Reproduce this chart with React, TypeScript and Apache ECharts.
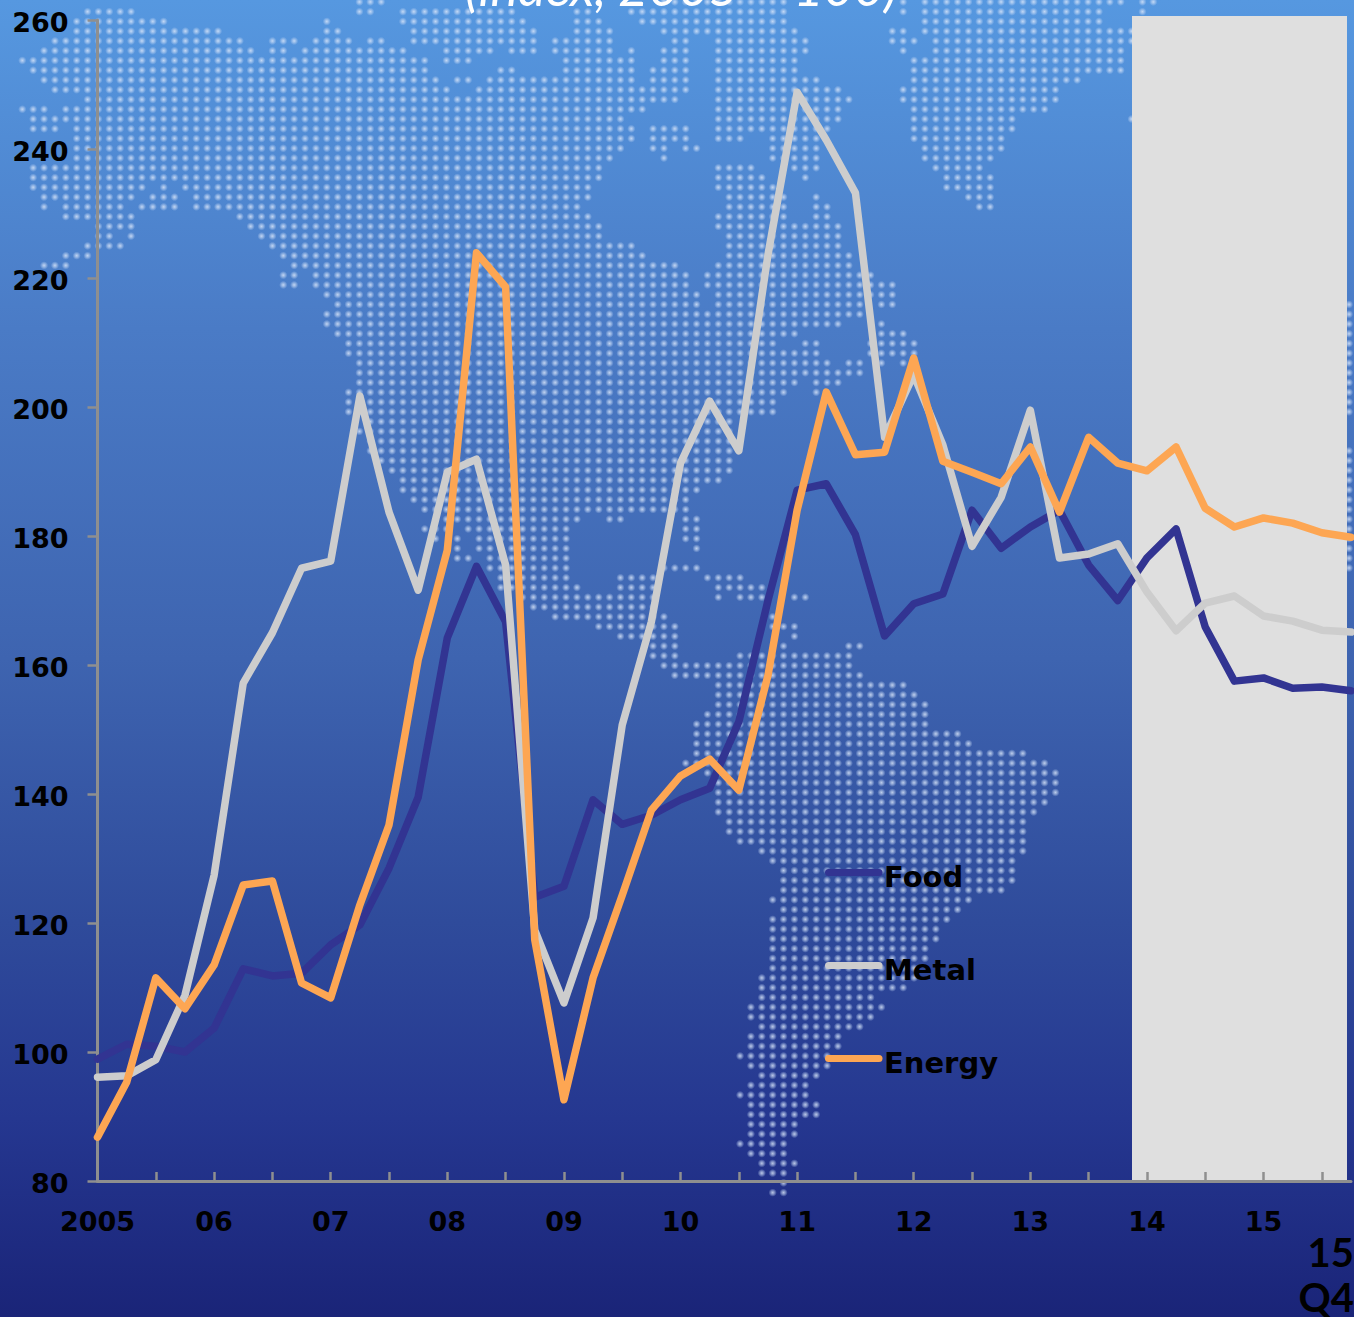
import React, { useEffect, useRef } from "react";
import * as echarts from "echarts";

const WIDTH = 1354;
const HEIGHT = 1317;

const YEAR_LABELS = ["2005", "06", "07", "08", "09", "10", "11", "12", "13", "14", "15"];
const QUARTERS = YEAR_LABELS.flatMap((y) => [y, `${y}-Q2`, `${y}-Q3`, `${y}-Q4`]);

const FOOD = [
  98.9, 101.2, 100.9, 100, 103.7, 112.9, 111.8, 112.2, 116.6, 119.7, 128.5, 139.5, 164.2, 175.3, 166.7,
  124, 125.7, 139.1, 135.3, 136.7, 139.1, 140.9, 151.2, 170, 187.1, 188.1, 180.2, 164.5, 169.5, 171,
  184, 178.1, 181.4, 184, 175.5, 170, 176.6, 181.1, 165.9, 157.5, 158, 156.4, 156.6, 156,
];
const METAL = [
  96.1, 96.3, 98.8, 108.8, 127.4, 157.2, 165, 175, 176.1, 201.7, 183.7, 171.6, 189.9, 191.9, 175.5,
  118.9, 107.6, 120.8, 150.7, 166.7, 191.3, 200.9, 193.2, 223.6, 248.8, 241.4, 233.2, 195.3, 205, 194.1,
  178.4, 186, 199.5, 176.6, 177.2, 178.8, 171.3, 165.3, 169.6, 170.7, 167.6, 166.8, 165.4, 165.1,
];
const ENERGY = [
  86.8, 95.3, 111.5, 106.7, 113.5, 125.9, 126.5, 110.7, 108.4, 122.8, 135.2, 160.8, 177.8, 223.9, 218.6,
  117.4, 92.6, 111.5, 124.3, 137.5, 142.8, 145.4, 140.6, 158.4, 184, 202.3, 192.6, 193, 207.6, 191.6,
  189.9, 188.1, 193.8, 183.7, 195.3, 191.3, 190.1, 193.8, 184.3, 181.4, 182.8, 182, 180.5, 179.8,
];

// Land cells of the dotted world map: one list per grid row, as start/end column pairs.
const LAND_ROWS: number[][] = [
  [31,33,59,70,81,81,83,101,103,104],
  [6,10,31,32,35,45,51,52,56,70,81,81,83,99,103,103],
  [5,13,28,28,35,46,51,53,57,70,83,99],
  [5,18,28,29,36,47,51,54,59,71,80,81,83,102],
  [3,20,23,25,27,30,32,33,36,47,49,54,60,61,64,72,80,82,84,102],
  [2,21,23,24,26,35,39,43,45,47,49,54,56,56,59,61,64,72,81,81,84,101],
  [0,37,39,41,50,56,59,61,64,71,82,101],
  [1,37,44,45,50,56,58,61,64,71,82,101],
  [2,38,40,41,43,56,58,61,64,73,82,97],
  [3,39,42,61,64,75,81,95],
  [6,60,64,76,81,95],
  [0,2,4,57,64,75,82,94],
  [1,55,64,75,82,91,102,102],
  [1,3,5,56,58,61,64,74,82,91],
  [5,56,58,61,64,66,69,73,82,90],
  [5,55,58,59,61,62,69,73,83,90],
  [5,54,59,59,69,73,83,89],
  [1,53,64,67,71,73,84,88],
  [1,53,64,68,72,72,85,89],
  [1,11,13,13,15,52,64,69,85,89],
  [2,10,12,14,16,52,65,70,73,73,87,89],
  [2,2,4,9,11,14,16,51,65,70,73,74,88,89],
  [4,10,20,52,64,70,73,74],
  [7,10,21,53,64,75],
  [7,8,10,10,22,53,65,75],
  [6,9,23,56,65,75],
  [4,6,24,57,65,76],
  [2,4,25,60,64,76],
  [24,25,27,61,63,78],
  [24,25,27,61,63,80],
  [28,62,64,80],
  [29,62,64,77,79,80,122,122],
  [28,77,122,122],
  [28,75,79,79,122,122],
  [29,71,79,81,122,122],
  [30,69,72,73,78,82,122,122],
  [30,73,78,82,122,122],
  [31,74,76,77,79,79,81,81,122,122],
  [31,77,122,122],
  [31,71,73,75,122,122],
  [30,70,73,73,122,122],
  [30,69,122,122],
  [30,69,122,122],
  [32,65],
  [31,65],
  [32,65],
  [32,65,122,122],
  [33,65,122,122],
  [34,65,122,122],
  [35,64,122,122],
  [35,62,122,122],
  [36,61,122,122],
  [37,61,122,122],
  [39,51,54,55,61,62,122,122],
  [37,39,41,50,61,62,122,122],
  [38,38,40,40,42,50,61,62,122,122],
  [40,40,42,50,62,62,122,122],
  [40,41,43,50,122,122],
  [43,50,59,62,122,122],
  [44,50,55,58,63,66],
  [44,51,55,58,64,68],
  [46,58,64,64,66,68,71,72],
  [47,58],
  [49,59,69,69],
  [53,60,69,71],
  [55,60,71,71],
  [58,60,70,70,76,77],
  [58,60,66,76],
  [59,76],
  [60,63,64,77],
  [64,81],
  [64,82],
  [64,83],
  [63,83],
  [62,83],
  [62,86],
  [62,87],
  [62,92],
  [61,94],
  [63,95],
  [64,95],
  [64,95],
  [64,94],
  [64,93],
  [65,92],
  [65,92],
  [66,92],
  [68,92],
  [69,91],
  [70,91],
  [70,91],
  [70,90],
  [69,87],
  [70,86],
  [69,85],
  [69,84],
  [69,84],
  [69,83],
  [69,83],
  [69,82],
  [68,82],
  [68,81],
  [68,78],
  [67,79],
  [67,78],
  [68,77],
  [67,75],
  [67,75],
  [66,74],
  [67,74],
  [68,73],
  [67,72],
  [66,72],
  [67,73],
  [67,73],
  [67,71],
  [67,71],
  [66,70],
  [67,70],
  [68,71],
  [68,70],
  [70,70],
  [69,70],
];

const LABEL_FONT = "DejaVu Sans";
const TITLE_FONT = "Lato";

// Paints the glowing map dots on an offscreen canvas, returned as an image source.
function paintMapDots(): string {
  const canvas = document.createElement("canvas");
  canvas.width = WIDTH;
  canvas.height = HEIGHT;
  const ctx = canvas.getContext("2d")!;
  LAND_ROWS.forEach((ranges, row) => {
    const cy = 1.9 + 9.76 * row;
    for (let i = 0; i < ranges.length; i += 2) {
      for (let col = ranges[i]; col <= ranges[i + 1]; col++) {
        const cx = 22.3 + 10.875 * col;
        const glow = ctx.createRadialGradient(cx, cy, 0, cx, cy, 4.2);
        glow.addColorStop(0, "rgba(220,232,250,0.82)");
        glow.addColorStop(0.42, "rgba(205,221,246,0.55)");
        glow.addColorStop(1, "rgba(190,212,245,0)");
        ctx.fillStyle = glow;
        ctx.beginPath();
        ctx.arc(cx, cy, 4.2, 0, Math.PI * 2);
        ctx.fill();
      }
    }
  });
  return canvas.toDataURL("image/png");
}

const AXIS_COLOR = "#8f8f8f";
const LABEL_STYLE = { color: "#000", fontFamily: LABEL_FONT, fontWeight: 700 };

export default function App() {
  const ref = useRef<HTMLDivElement>(null);

  useEffect(() => {
    document.body.style.margin = "0";
    const chart = echarts.init(ref.current!, undefined, { renderer: "svg" });
    const line = (name: string, data: number[], color: string) => ({
      name,
      type: "line" as const,
      data,
      symbol: "none",
      lineStyle: { color, width: 7.5, join: "round", cap: "round" },
      itemStyle: { color },
    });
    chart.setOption({
      animation: false,
      backgroundColor: new echarts.graphic.LinearGradient(0, 0, 0, 1, [
        { offset: 0, color: "#5698e0" },
        { offset: 0.25, color: "#4a7bc6" },
        { offset: 0.5, color: "#3e64b0" },
        { offset: 0.7, color: "#2f4b9b" },
        { offset: 0.85, color: "#253790" },
        { offset: 1, color: "#1a2478" },
      ]),
      grid: { left: 97.5, right: 3, top: 20, bottom: 136, containLabel: false, outerBoundsMode: "none" },
      xAxis: {
        type: "category",
        data: QUARTERS,
        boundaryGap: false,
        axisLine: { show: true, lineStyle: { color: AXIS_COLOR, width: 3 } },
        axisTick: { show: true, inside: true, length: 9, interval: 1, lineStyle: { color: AXIS_COLOR, width: 2.5 } },
        axisLabel: { ...LABEL_STYLE, interval: 3, margin: 27, fontSize: 27 },
        splitLine: { show: false },
      },
      yAxis: {
        type: "value",
        min: 80,
        max: 260,
        interval: 20,
        axisLine: { show: true, onZero: false, lineStyle: { color: AXIS_COLOR, width: 3 } },
        axisTick: { show: true, length: 10, lineStyle: { color: AXIS_COLOR, width: 2.5 } },
        axisLabel: {
          ...LABEL_STYLE,
          margin: 29,
          fontSize: 27,
          formatter: "{v|{value}}",
          rich: { v: { ...LABEL_STYLE, fontSize: 27, padding: [4, 0, 0, 0] } },
        },
        splitLine: { show: false },
      },
      legend: {
        orient: "vertical",
        left: 820,
        top: 857,
        itemWidth: 50.5,
        itemHeight: 14,
        itemGap: 64,
        data: ["Food", "Metal", "Energy"],
        itemStyle: { opacity: 0 },
        lineStyle: { width: 7, cap: "round" },
        formatter: "{t|{name}}",
        textStyle: {
          ...LABEL_STYLE,
          fontSize: 29,
          rich: { t: { ...LABEL_STYLE, fontSize: 29, padding: [8, 0, 0, 0] } },
        },
      },
      graphic: [
        { type: "image", z: -3, silent: true, style: { image: paintMapDots(), x: 0, y: 0, width: WIDTH, height: HEIGHT } },
        { type: "rect", z: -2, silent: true, shape: { x: 1132, y: 16, width: 215, height: 1165 }, style: { fill: "#dfdfdf" } },
        {
          type: "text",
          z: 5,
          x: 465,
          y: -14,
          style: { text: "(index, 2005 = 100)", fill: "#fff", font: `italic 400 52px ${TITLE_FONT}`, verticalAlign: "middle" },
        },
        {
          type: "text",
          z: 5,
          x: 1354,
          y: 1229,
          style: { text: "15\nQ4", fill: "#000", font: `700 40px ${TITLE_FONT}`, align: "right", lineHeight: 45 },
        },
      ],
      series: [line("Food", FOOD, "#323492"), line("Metal", METAL, "#cdcdcd"), line("Energy", ENERGY, "#fda653")],
    });
    return () => chart.dispose();
  }, []);

  return <div ref={ref} style={{ position: "absolute", left: 0, top: 0, width: WIDTH, height: HEIGHT }} />;
}
